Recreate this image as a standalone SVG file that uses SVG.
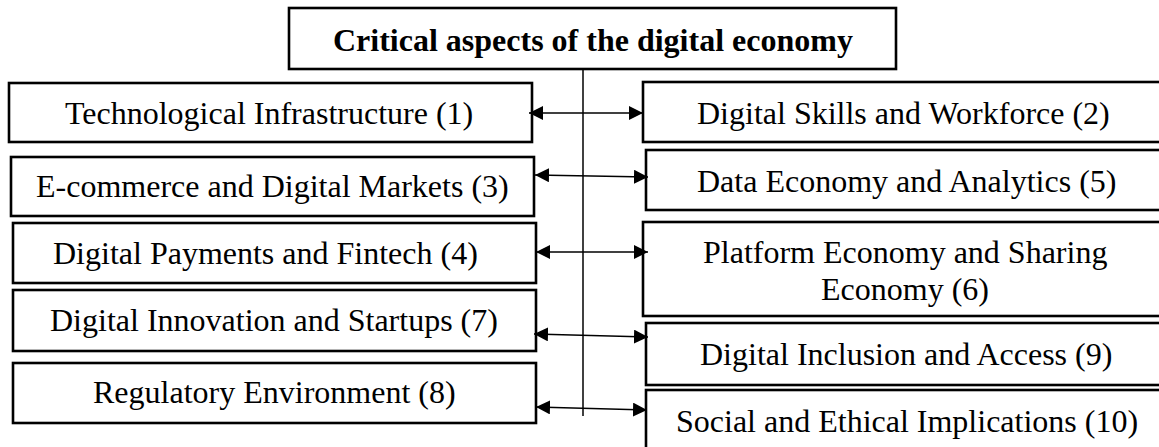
<svg xmlns="http://www.w3.org/2000/svg" width="1159" height="447" viewBox="0 0 1159 447">
<style>
.box{fill:#fff;stroke:#000;stroke-width:2.6}
.t{font-family:"Liberation Serif","Times New Roman",serif;font-size:32px;fill:#000}
.b{font-weight:bold}
.c{stroke:#000;stroke-width:1.5;fill:none}
.a{marker-start:url(#ah);marker-end:url(#ah)}
</style>
<defs>
<marker id="ah" viewBox="0 0 14 14" refX="14" refY="7" markerWidth="14" markerHeight="14" markerUnits="userSpaceOnUse" orient="auto-start-reverse">
<path d="M0,0 L14,7 L0,14 z" fill="#000"/>
</marker>
</defs>
<rect width="1159" height="447" fill="#fff"/>
<g id="title">
<rect class="box" x="289" y="8" width="607" height="61"/>
<text class="t b" x="333" y="51">Critical aspects of the digital economy</text>
</g>
<g id="n1">
<rect class="box" x="9" y="83" width="523" height="59"/>
<text class="t" x="65" y="124">Technological Infrastructure (1)</text>
</g>
<g id="n2">
<rect class="box" x="643" y="82" width="540" height="60"/>
<text class="t" x="697" y="124">Digital Skills and Workforce (2)</text>
</g>
<g id="n3">
<rect class="box" x="11" y="157" width="523" height="59"/>
<text class="t" x="36" y="197">E-commerce and Digital Markets (3)</text>
</g>
<g id="n5">
<rect class="box" x="646" y="150" width="540" height="60"/>
<text class="t" x="697" y="192">Data Economy and Analytics (5)</text>
</g>
<g id="n4">
<rect class="box" x="13" y="223" width="523" height="60"/>
<text class="t" x="53" y="264">Digital Payments and Fintech (4)</text>
</g>
<g id="n6">
<rect class="box" x="643" y="222" width="540" height="94"/>
<text class="t" x="703" y="263">Platform Economy and Sharing</text>
<text class="t" x="821" y="300">Economy (6)</text>
</g>
<g id="n7">
<rect class="box" x="13" y="290" width="523" height="61"/>
<text class="t" x="50" y="331">Digital Innovation and Startups (7)</text>
</g>
<g id="n9">
<rect class="box" x="646" y="323" width="540" height="62"/>
<text class="t" x="700" y="365">Digital Inclusion and Access (9)</text>
</g>
<g id="n8">
<rect class="box" x="13" y="363" width="523" height="60"/>
<text class="t" x="93" y="403">Regulatory Environment (8)</text>
</g>
<g id="n10">
<rect class="box" x="646" y="390" width="540" height="70"/>
<text class="t" x="676" y="432">Social and Ethical Implications (10)</text>
</g>
<g id="connectors">
<line class="c" x1="583" y1="69" x2="583" y2="416"/>
<line class="c a" x1="529" y1="113" x2="643" y2="113"/>
<line class="c a" x1="535" y1="175" x2="648" y2="177"/>
<line class="c a" x1="536" y1="252" x2="648" y2="252"/>
<line class="c a" x1="534" y1="334" x2="648" y2="337"/>
<line class="c a" x1="536" y1="407" x2="647" y2="410"/>
</g>
</svg>
